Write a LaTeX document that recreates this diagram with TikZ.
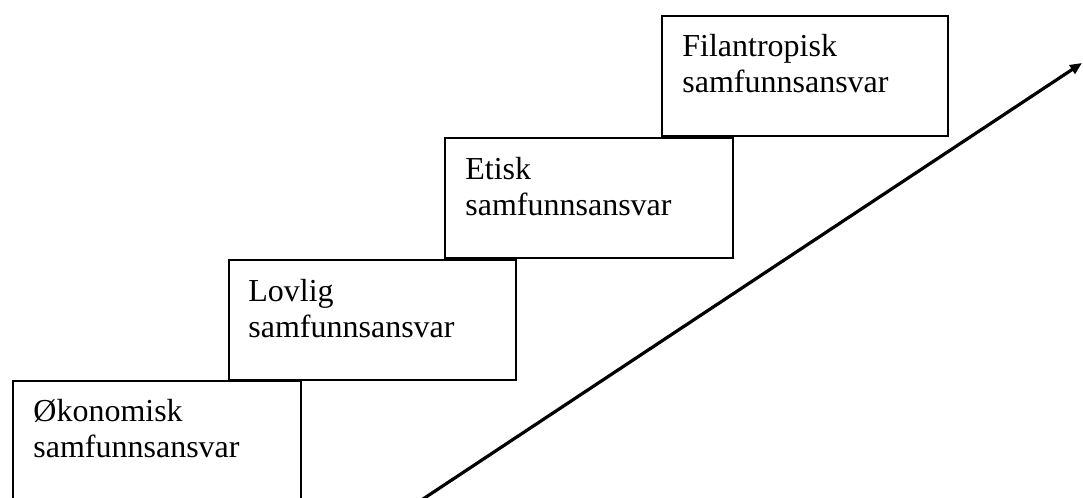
\documentclass[tikz,border=0pt]{standalone}
\usepackage{fontspec}
\setmainfont{Liberation Serif}
\usetikzlibrary{arrows.meta,calc}

\tikzset{
  stepbox/.style={draw=black, line width=1pt, fill=white, rectangle,
    inner sep=0pt, anchor=north west},
  % base anchor of a two-line node sits on the baseline of its last line
  steptext/.style={anchor=base west, align=left, inner sep=0pt,
    font=\fontsize{16}{18}\selectfont},
  risearrow/.style={line width=1.6pt, -{Triangle[length=6pt,width=5pt]}}
}

\begin{document}
\begin{tikzpicture}[x=0.5pt, y=-0.5pt]
  \clip (0,0) rectangle (1083,498);
  \fill[white] (0,0) rectangle (1083,498);

  % the four steps of the stair, lowest first
  \node[stepbox, minimum width=144pt, minimum height=70pt] (b1) at (12,380) {};
  \node[stepbox, minimum width=143.5pt, minimum height=60pt] (b2) at (228,259) {};
  \node[stepbox, minimum width=144pt, minimum height=60pt] (b3) at (444,137) {};
  \node[stepbox, minimum width=143pt, minimum height=60pt] (b4) at (661,15) {};

  \node[steptext] (t1) at ($(b1.north west)+(21,77)$) {Økonomisk\\samfunnsansvar};
  \node[steptext] (t2) at ($(b2.north west)+(20,78)$) {Lovlig\\samfunnsansvar};
  \node[steptext] (t3) at ($(b3.north west)+(21,78)$) {Etisk\\samfunnsansvar};
  \node[steptext] (t4) at ($(b4.north west)+(21,77)$) {Filantropisk\\samfunnsansvar};

  % rising arrow
  \coordinate (a0) at (420,501);
  \coordinate (a1) at (1082,63);
  \draw[risearrow] (a0) -- (a1);
\end{tikzpicture}
\end{document}
